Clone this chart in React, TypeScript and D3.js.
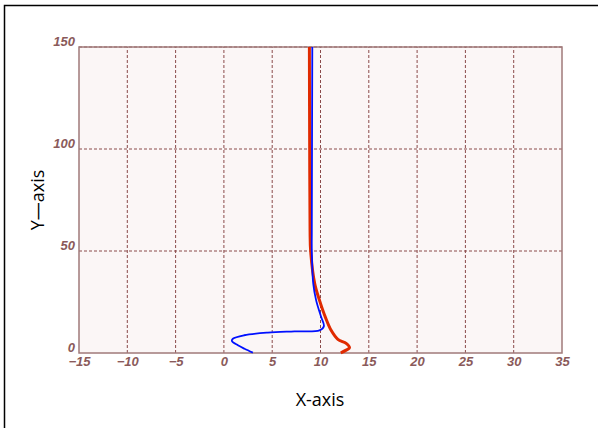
import * as d3 from "d3";
import { useRef, useEffect } from "react";

const xTicks = [-15, -10, -5, 0, 5, 10, 15, 20, 25, 30, 35];
const yTicks = [0, 50, 100, 150];

// blue profile (x, y)
const blueX = [9.15, 9.12, 9.1, 9.1, 9.25, 9.55, 10.07, 10.35, 9.9, 7.3, 4.55, 2.1, 0.93, 0.83, 1.45, 2.13, 3.0];
const blueY = [150, 100, 60, 50, 34, 25.8, 17.6, 13.1, 11.1, 10.6, 10.0, 8.7, 7.0, 5.9, 3.8, 2.1, 0.2];

// red profile (x, y)
const redX = [8.85, 8.88, 8.92, 8.98, 9.4, 9.9, 10.5, 11.1, 11.8, 12.66, 13.0, 12.66, 12.1];
const redY = [150, 100, 60, 50, 34, 25.8, 17.6, 11.1, 6.7, 4.7, 2.6, 1.4, 0.1];

export default function App() {
  const width = 598;
  const height = 428;
  const marginLeft = 79;
  const marginRight = 36;
  const marginTop = 47;
  const marginBottom = 75;

  const gx = useRef(null);
  const gy = useRef(null);

  const x = d3.scaleLinear().domain([-15, 35]).range([marginLeft, width - marginRight]);
  const y = d3.scaleLinear().domain([0, 150]).range([height - marginBottom, marginTop]);

  const line = d3.line().x(d => x(d[0])).y(d => y(d[1])).curve(d3.curveCatmullRom);
  const blue = blueX.map((v, i) => [v, blueY[i]]);
  const red = redX.map((v, i) => [v, redY[i]]);

  const tickColor = "#8a5a5a";
  const tickFont = "italic bold 13px 'Liberation Sans Narrow', 'Liberation Sans', Arial, sans-serif";

  useEffect(() => {
    const ax = d3.select(gx.current);
    ax.call(d3.axisBottom(x).tickValues(xTicks).tickSize(0).tickPadding(4));
    ax.select(".domain").remove();
    ax.selectAll("text").attr("fill", tickColor).style("font", tickFont);
    const ay = d3.select(gy.current);
    ay.call(d3.axisLeft(y).tickValues(yTicks).tickSize(0).tickPadding(4));
    ay.select(".domain").remove();
    ay.selectAll("text").attr("fill", tickColor).attr("dy", "-0.1em").style("font", tickFont);
  }, [x, y]);

  return (
    <svg width={width} height={height} style={{ position: "absolute", left: 0, top: 0 }}>
      <rect x={0} y={0} width={width} height={height} fill="#fff" />
      <rect x={4.5} y={5.5} width={width} height={height} fill="none" stroke="#000" strokeWidth={1.5} />

      <rect x={marginLeft} y={marginTop} width={x(35) - x(-15)} height={y(0) - y(150)} fill="#fbf6f6" />

      {/* grid */}
      <g stroke="#8a4a4a" strokeWidth={1} strokeDasharray="3,2">
        {xTicks.slice(1, -1).map(t => (
          <line key={t} x1={x(t)} x2={x(t)} y1={y(0)} y2={y(150)} />
        ))}
        {yTicks.slice(1).map(t => (
          <line key={t} x1={x(-15)} x2={x(35)} y1={y(t)} y2={y(t)} />
        ))}
      </g>

      {/* frame */}
      <rect x={marginLeft} y={marginTop} width={x(35) - x(-15)} height={y(0) - y(150)} fill="none" stroke="#a07a7a" strokeWidth={1.5} />

      <path d={line(red)} fill="none" stroke="#e02a00" strokeWidth={3} />
      <path d={line(blue)} fill="none" stroke="#0010ff" strokeWidth={1.8} />

      <g ref={gx} transform={`translate(0,${y(0)})`} />
      <g ref={gy} transform={`translate(${marginLeft},0)`} />

      <text x={320} y={406} textAnchor="middle" fontSize={18} fontFamily="'Open Sans', 'Liberation Sans', sans-serif">X-axis</text>
      <text transform={`translate(44,${(y(0) + y(150)) / 2}) rotate(-90)`} textAnchor="middle" fontSize={18} fontFamily="'Open Sans', 'Liberation Sans', sans-serif">Y—axis</text>
    </svg>
  );
}
